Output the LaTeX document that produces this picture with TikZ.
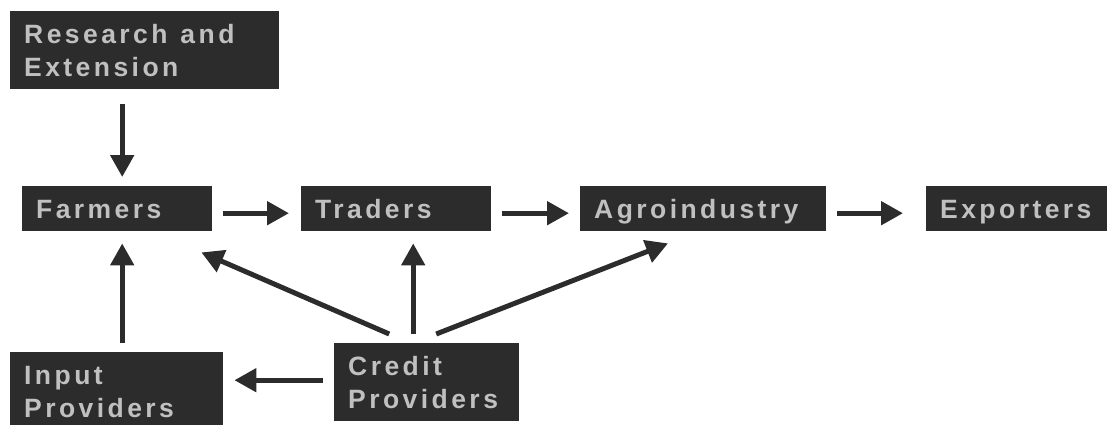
\documentclass[tikz,border=0pt]{standalone}
\usepackage{fontspec}
\setmainfont{Liberation Sans}[LetterSpace=13]
\usetikzlibrary{arrows.meta}

\definecolor{boxgray}{HTML}{2C2C2C}
\definecolor{labelgray}{HTML}{C0C0C0}

\tikzset{
	stagebox/.style={fill=boxgray, text=labelgray, anchor=north west,
		inner xsep=14pt, inner ysep=0pt, align=left, minimum height=45pt,
		font=\fontsize{26.5}{33}\selectfont\bfseries,
		text height=19pt, text depth=0pt},
	stackbox/.style={stagebox, minimum height=78pt, text depth=33pt},
	flow/.style={draw=boxgray, line width=5pt,
		-{Triangle[length=22pt,width=23pt]}}
}

\begin{document}
\begin{tikzpicture}[x=1pt,y=-1pt]
	\useasboundingbox (0,0) rectangle (1107,424);

	\node[stackbox, text width=241pt] (research) at (10,11) {Research\hspace{4pt} and\\Extension};
	\node[stagebox, text width=162pt] (farmers) at (22,186) {Farmers};
	\node[stagebox, text width=162pt] (traders) at (301,186) {Traders};
	\node[stagebox, text width=218pt] (agro) at (580,186) {Agroindustry};
	\node[stagebox, text width=162pt] (exporters) at (926,186) {Exporters};
	\node[stackbox, text width=185pt] (input) at (10,352) {Input\\Providers};
	\node[stackbox, text width=157pt] (credit) at (334,343) {Credit\\Providers};

	\draw[flow, shorten <=15pt, shorten >=9pt]
		([xshift=5pt]farmers.north |- research.south) -- ([xshift=5pt]farmers.north);
	\draw[flow, shorten <=11pt, shorten >=12pt]
		([yshift=-4.5pt]farmers.east) -- ([yshift=-4.5pt]traders.west);
	\draw[flow, shorten <=11pt, shorten >=11pt]
		([yshift=-4.5pt]traders.east) -- ([yshift=-4.5pt]agro.west);
	\draw[flow, shorten <=11pt, shorten >=23pt]
		([yshift=-4.5pt]agro.east) -- ([yshift=-4.5pt]exporters.west);
	\draw[flow, shorten <=9pt, shorten >=12pt]
		([xshift=5pt]farmers.south |- input.north) -- ([xshift=5pt]farmers.south);

	\draw[flow] ([xshift=-37.5pt,yshift=9pt]credit.north) -- ([xshift=-11pt,yshift=-21pt]farmers.south east);
	\draw[flow, shorten <=9pt, shorten >=12pt]
		([xshift=-13.5pt]credit.north) -- ([xshift=-13.5pt]credit.north |- traders.south);
	\draw[flow] ([xshift=9.5pt,yshift=9pt]credit.north) -- ([xshift=88pt,yshift=-12pt]agro.south west);
	\draw[flow, shorten <=11pt, shorten >=11pt]
		([yshift=2pt]credit.west) -- ([yshift=2pt]credit.west -| input.east);
\end{tikzpicture}
\end{document}
